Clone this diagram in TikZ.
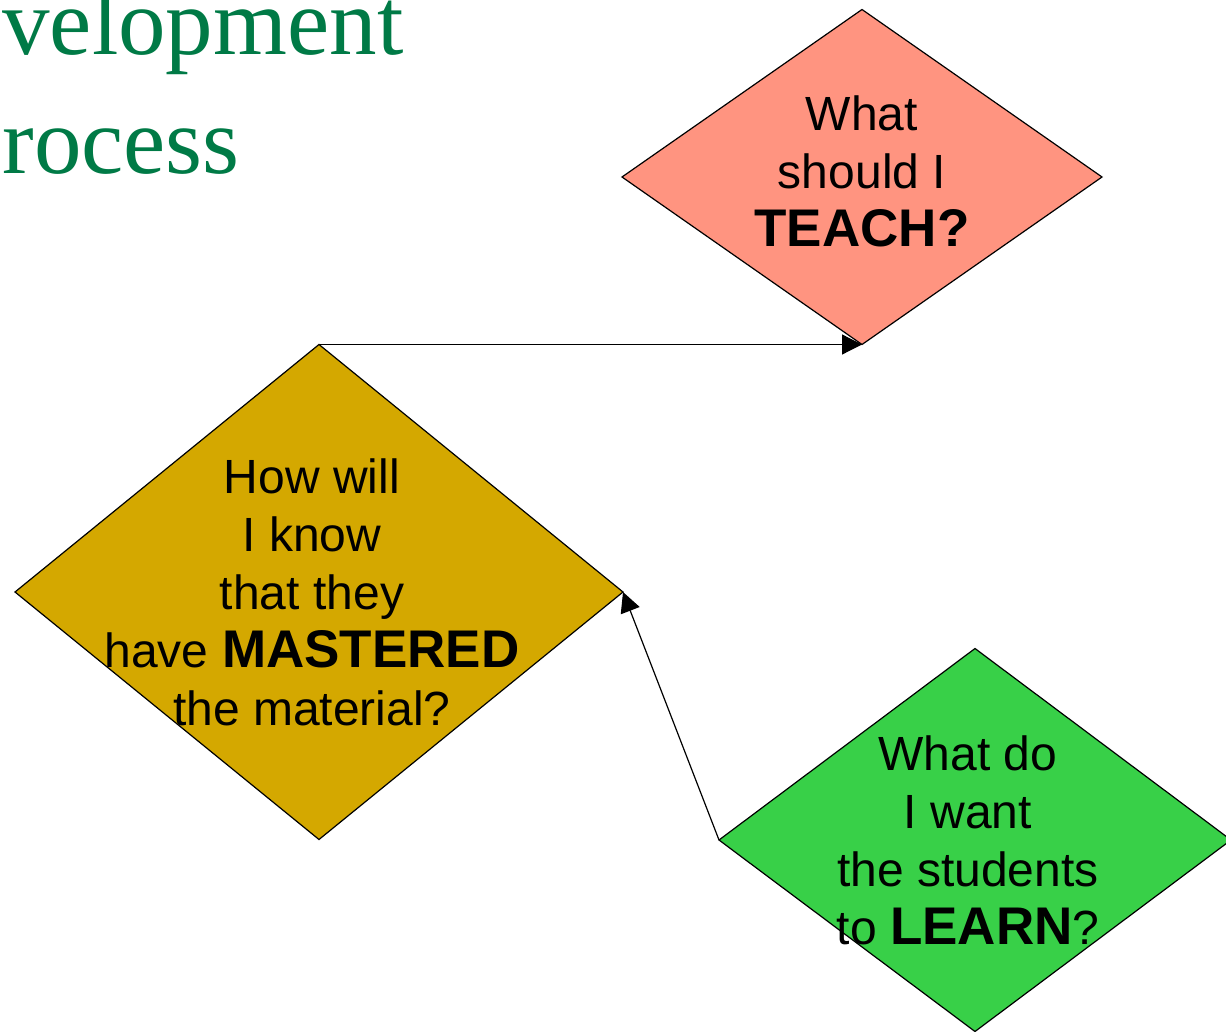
\documentclass[tikz,border=0pt]{standalone}
\usepackage{fontspec}
\setmainfont{Liberation Sans}
\newfontfamily\headfont{Liberation Serif}
\usetikzlibrary{arrows.meta, shapes.geometric}

\definecolor{teachred}{RGB}{255,148,128}
\definecolor{mastergold}{RGB}{212,168,0}
\definecolor{learngreen}{RGB}{56,208,72}
\definecolor{headgreen}{RGB}{0,122,70}

% key word of each question, a little larger
\newcommand{\qbold}[1]{{\fontsize{26.5}{29}\selectfont\bfseries #1}}

\begin{document}
\begin{tikzpicture}[x=0.5pt,y=-0.5pt,>={Triangle[length=10pt,width=10pt]},
  question/.style={diamond,draw=black,line width=0.6pt,inner sep=0pt,outer sep=0pt},
  qtext/.style={align=center,inner sep=0pt,font=\fontsize{24}{29}\selectfont},
  heading/.style={anchor=base west,inner sep=0pt,text=headgreen,
    font=\headfont\fontsize{47.5}{57}\selectfont}]

\useasboundingbox (0,0) rectangle (1226,1032);

% heading, running off the left edge
  \node[heading] (head1) at (2,55) {velopment};
  \node[heading] (head2) at (2,174) {rocess};

% define the question diamonds
  \node[question, fill=teachred, minimum width=240pt, minimum height=167.5pt]
    (teach) at (862,177) {};
  \node[question, fill=mastergold, minimum width=304pt, minimum height=247.5pt]
    (master) at (319,592) {};
  \node[question, fill=learngreen, minimum width=256pt, minimum height=191.5pt]
    (learn) at (975,840) {};

% define the links
  \path[->, line width=0.6pt] (master.north) edge (teach.south)
        (learn.west) edge (master.east);

% the questions
  \node[qtext] (teachq) at ([yshift=3pt]teach.center)
{What\\should I\\\qbold{TEACH?}};
  \node[qtext] (masterq) at ([xshift=-3.5pt]master.center)
{How will\\I know\\that they\\have \qbold{MASTERED}\\the material?};
  \node[qtext] (learnq) at ([xshift=-3.5pt]learn.center)
{What do\\I want\\the students\\to \qbold{LEARN}?};

\end{tikzpicture}
\end{document}
